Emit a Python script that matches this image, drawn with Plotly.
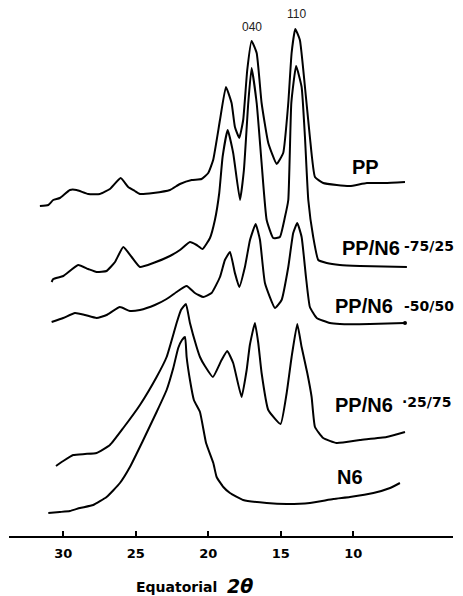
import plotly.graph_objects as go

# Equatorial WAXD scans of PP, PP/N6 blends and N6, stacked with vertical offsets.
# Intensity values are in arbitrary units and already include each trace's offset.

pp_2theta = [31.61, 31.03, 30.69, 30.23, 29.54, 29.08, 28.28, 27.47, 26.78, 26.04,
             25.52, 25.06, 24.71, 23.79, 22.64, 21.95, 21.14, 20.46, 20.00, 19.66,
             19.19, 18.78, 18.39, 18.16, 17.86, 17.59, 17.31, 17.01, 16.66, 16.32,
             15.86, 15.28, 14.83, 14.48, 14.25, 14.00, 13.68, 13.33, 12.99, 12.64,
             12.07, 11.14, 10.23, 9.06, 7.82, 6.43]
pp_int = [330, 331, 336, 338, 346, 346, 342, 342, 347, 358,
          349, 345, 342, 343, 346, 352, 356, 357, 363, 376,
          416, 449, 433, 409, 398, 416, 466, 495, 483, 433,
          393, 372, 383, 433, 483, 507, 496, 449, 399, 359,
          353, 351, 350, 353, 353, 354]

b7525_2theta = [30.80, 30.69, 30.00, 28.97, 28.28, 27.70, 27.01, 26.43, 25.86, 25.28,
                24.71, 23.79, 22.64, 21.95, 21.26, 20.80, 20.39, 19.88, 19.54, 19.24,
                19.01, 18.66, 18.28, 17.81, 17.54, 17.24, 17.01, 16.66, 16.32, 15.97,
                15.52, 15.06, 14.71, 14.48, 14.27, 13.94, 13.56, 13.33, 13.10, 12.76,
                12.41, 11.83, 10.92, 9.54, 6.30]
b7525_int = [254, 257, 260, 271, 267, 264, 265, 274, 289, 279,
             269, 273, 280, 286, 294, 291, 287, 298, 316, 343,
             379, 406, 383, 336, 366, 433, 468, 433, 373, 316,
             298, 299, 319, 336, 433, 470, 449, 399, 336, 299,
             276, 273, 271, 270, 269]

b5050_2theta = [30.80, 30.00, 29.19, 28.50, 27.70, 27.01, 26.09, 25.40, 24.71, 23.68,
                22.87, 22.18, 21.49, 20.92, 20.34, 19.77, 19.19, 18.85, 18.50, 18.16,
                17.86, 17.47, 17.12, 16.73, 16.43, 16.09, 15.40, 14.94, 14.48, 14.14,
                13.86, 13.56, 13.26, 12.99, 12.52, 11.61, 10.92, 8.85, 6.43]
b5050_int = [214, 218, 223, 221, 218, 221, 229, 225, 226, 231,
             237, 244, 250, 243, 239, 243, 259, 276, 284, 263,
             249, 269, 296, 312, 296, 253, 228, 236, 269, 303,
             313, 299, 259, 229, 218, 213, 212, 212, 213]

b2575_2theta = [30.50, 30.00, 29.31, 28.50, 27.70, 26.78, 25.86, 24.71, 23.56, 22.87,
                22.18, 21.88, 21.54, 21.26, 20.80, 20.57, 20.23, 19.68, 19.08, 18.69,
                18.28, 17.70, 17.35, 17.13, 16.78, 16.55, 16.32, 15.86, 15.01, 14.59,
                14.25, 13.86, 13.56, 13.17, 12.87, 12.64, 12.07, 11.14, 9.54, 7.70, 6.43]
b2575_int = [70, 75, 81, 82, 83, 91, 108, 131, 159, 179,
             213, 226, 232, 213, 189, 179, 170, 159, 176, 185,
             173, 139, 166, 191, 213, 193, 163, 126, 112, 143,
             179, 212, 189, 163, 139, 109, 98, 93, 96, 99, 104]

n6_2theta = [31.03, 30.23, 29.54, 28.85, 27.93, 27.01, 26.09, 25.40, 24.48, 23.56,
             22.87, 22.41, 22.07, 21.81, 21.60, 21.49, 21.26, 20.99, 20.57, 20.15,
             19.65, 19.42, 18.96, 18.50, 17.59, 15.97, 14.59, 12.99, 11.38, 10.23,
             8.61, 7.46, 6.78]
n6_int = [23, 24, 25, 28, 31, 39, 53, 69, 96, 124,
          146, 168, 188, 196, 199, 179, 156, 136, 124, 93,
          73, 59, 49, 43, 36, 33, 32, 33, 37, 39,
          43, 48, 53]

tick_vals = [30, 25, 20, 15, 10]

curves = [
    (pp_2theta, pp_int),
    (b7525_2theta, b7525_int),
    (b5050_2theta, b5050_int),
    (b2575_2theta, b2575_int),
    (n6_2theta, n6_int),
]

fig = go.Figure()
for xs, ys in curves:
    fig.add_trace(go.Scatter(
        x=xs, y=ys, mode="lines",
        line=dict(color="black", width=2, shape="spline", smoothing=0.4),
        showlegend=False, hoverinfo="skip",
    ))

# end-point dot on the 50/50 trace
fig.add_trace(go.Scatter(
    x=[b5050_2theta[-1]], y=[b5050_int[-1]], mode="markers",
    marker=dict(color="black", size=4), showlegend=False, hoverinfo="skip",
))

main_font = dict(family="Liberation Sans, Arial, sans-serif", size=20, color="black", weight="bold")
sub_font = dict(family="DejaVu Sans, sans-serif", size=14, color="black", weight="bold")
peak_font = dict(family="Liberation Sans, Arial, sans-serif", size=12, color="#222")

annotations = [
    dict(x=10.23, y=369, text="PP", font=main_font),
    dict(x=10.92, y=288.5, text="PP/N6", font=main_font),
    dict(x=6.62, y=290, text="-75/25", font=sub_font),
    dict(x=11.38, y=230.5, text="PP/N6", font=main_font),
    dict(x=6.62, y=230, text="-50/50", font=sub_font),
    dict(x=11.38, y=131, text="PP/N6", font=main_font),
    dict(x=6.75, y=134, text="·25/75", font=sub_font),
    dict(x=11.24, y=59.5, text="N6", font=main_font),
]
for a in annotations:
    a.update(xref="x", yref="y", xanchor="left", yanchor="middle", showarrow=False)

annotations += [
    dict(x=16.95, y=509, text="040", font=peak_font, xref="x", yref="y",
         xanchor="center", yanchor="middle", showarrow=False),
    dict(x=13.92, y=522, text="110", font=peak_font, xref="x", yref="y",
         xanchor="center", yanchor="middle", showarrow=False),
    # axis title, in two parts
    dict(x=(176 - 9) / 444, y=(536 - 587) / 536, xref="paper", yref="paper",
         xanchor="center", yanchor="middle", showarrow=False,
         text="<b>Equatorial</b>",
         font=dict(family="DejaVu Sans, sans-serif", size=14, color="black")),
    dict(x=(240 - 9) / 444, y=(536 - 586) / 536, xref="paper", yref="paper",
         xanchor="center", yanchor="middle", showarrow=False,
         text="<b><i>2θ</i></b>",
         font=dict(family="DejaVu Sans, sans-serif", size=19, color="black")),
]

fig.update_layout(
    width=463, height=596, autosize=False,
    margin=dict(l=9, r=10, t=0, b=60),
    paper_bgcolor="white", plot_bgcolor="white",
    annotations=annotations,
    xaxis=dict(
        range=[33.74, 3.12], showline=True, linecolor="black", linewidth=2,
        showgrid=False, zeroline=False,
        ticks="inside", ticklen=5, tickwidth=1.5, tickcolor="black",
        tickvals=tick_vals, ticktext=[str(v) for v in tick_vals],
        tickfont=dict(family="DejaVu Sans, sans-serif", size=13, color="black", weight="bold"),
        ticklabelstandoff=4,
    ),
    yaxis=dict(range=[0, 536], visible=False, showgrid=False, zeroline=False),
)

fig.write_html("out.html")
